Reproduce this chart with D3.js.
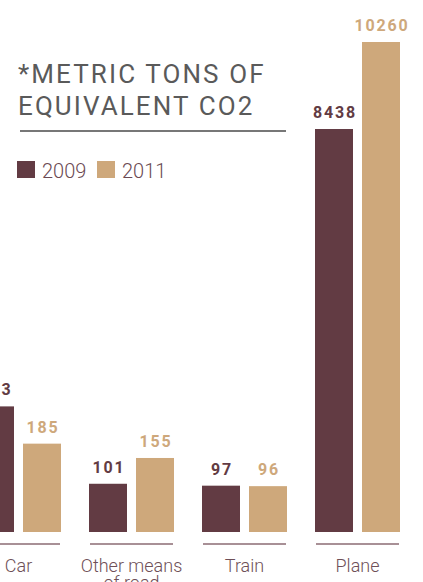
<!DOCTYPE html>
<html>
<head>
<meta charset="utf-8">
<script src="https://cdn.jsdelivr.net/npm/d3@7"></script>
<style>
  body { margin: 0; background: #fff; }
  svg { display: block; }
</style>
</head>
<body>
<div id="chart"></div>
<script>
"use strict";

// data
const categories = ["Car", "Other means of road", "Train", "Plane"];
const categoryLines = [["Car"], ["Other means", "of road"], ["Train"], ["Plane"]];
const years = ["2009", "2011"];
const values2009 = [263, 101, 97, 8438];
const values2011 = [185, 155, 96, 10260];
// the plane bars are drawn at a tenth of the scale of the others
const scaleDivisor = [1, 1, 1, 10];
const titleLines = ["*METRIC TONS OF", "EQUIVALENT CO2"];

const colors = {"2009": "#623b43", "2011": "#cea87b"};

const width = 423, height = 582;
const baseline = 532;

const svg = d3.select("#chart").append("svg")
    .attr("width", width)
    .attr("height", height);

// group position for each category
const x0 = d3.scaleBand()
    .domain(categories)
    .range([-24, -24 + 113 * categories.length])
    .paddingInner(0)
    .paddingOuter(0);

// bar position inside a group
const x1 = d3.scaleBand()
    .domain(years)
    .range([0, 85])
    .paddingInner(9 / 47)
    .paddingOuter(0);

const y = d3.scaleLinear()
    .domain([0, 1026])
    .range([baseline, 42]);

const rows = categories.map(function (c, i) {
    return {
        category: c,
        index: i,
        bars: [
            {year: "2009", value: values2009[i], scaled: values2009[i] / scaleDivisor[i]},
            {year: "2011", value: values2011[i], scaled: values2011[i] / scaleDivisor[i]}
        ]
    };
});

// title
const title = svg.append("text")
    .attr("x", 18)
    .attr("y", 83)
    .attr("fill", "#5a5a5a")
    .style("font-family", "Roboto, 'Open Sans', sans-serif")
    .style("font-size", "26px")
    .style("font-weight", 400)
    .style("letter-spacing", "2.1px");
title.selectAll("tspan")
    .data(titleLines)
    .enter().append("tspan")
    .attr("x", 18)
    .attr("dy", (d, i) => i === 0 ? 0 : 32)
    .text(d => d);

svg.append("line")
    .attr("x1", 20).attr("x2", 286)
    .attr("y1", 131).attr("y2", 131)
    .attr("stroke", "#4a4a4a")
    .attr("stroke-width", 1.5);

// legend
const legend = svg.append("g").attr("transform", "translate(17, 161)");
const legendItem = legend.selectAll("g")
    .data(years)
    .enter().append("g")
    .attr("transform", (d, i) => "translate(" + (i * 80) + ",0)");
legendItem.append("rect")
    .attr("width", 18)
    .attr("height", 17)
    .attr("fill", d => colors[d]);
legendItem.append("text")
    .attr("x", 25)
    .attr("y", 17)
    .attr("fill", "#6b4a53")
    .style("font-family", "Roboto, sans-serif")
    .style("font-size", "20px")
    .style("font-weight", 300)
    .text(d => d);

// bars
const group = svg.selectAll(".group")
    .data(rows)
    .enter().append("g")
    .attr("class", "group")
    .attr("transform", d => "translate(" + x0(d.category) + ",0)");

group.selectAll("rect")
    .data(d => d.bars)
    .enter().append("rect")
    .attr("x", d => x1(d.year))
    .attr("y", d => y(d.scaled))
    .attr("width", x1.bandwidth())
    .attr("height", d => baseline - y(d.scaled))
    .attr("fill", d => colors[d.year]);

group.selectAll(".value")
    .data(d => d.bars)
    .enter().append("text")
    .attr("class", "value")
    .attr("x", d => x1(d.year) + x1.bandwidth() / 2 + 1)
    .attr("y", d => y(d.scaled) - 11)
    .attr("text-anchor", "middle")
    .attr("fill", d => colors[d.year])
    .style("font-family", "Roboto, sans-serif")
    .style("font-size", "16px")
    .style("font-weight", 700)
    .style("letter-spacing", "1.8px")
    .text(d => d.value);

// category underline and name
group.append("line")
    .attr("x1", 1)
    .attr("x2", 84)
    .attr("y1", 544)
    .attr("y2", 544)
    .attr("stroke", "#8b6b73")
    .attr("stroke-width", 1.5);

const catText = group.append("text")
    .attr("text-anchor", "middle")
    .attr("y", 572)
    .attr("fill", "#6e4f57")
    .style("font-family", "Roboto, sans-serif")
    .style("font-size", "18px")
    .style("font-weight", 300);
catText.selectAll("tspan")
    .data(d => categoryLines[d.index])
    .enter().append("tspan")
    .attr("x", 42.5)
    .attr("dy", (d, i) => i === 0 ? 0 : 17)
    .text(d => d);
</script>
</body>
</html>
